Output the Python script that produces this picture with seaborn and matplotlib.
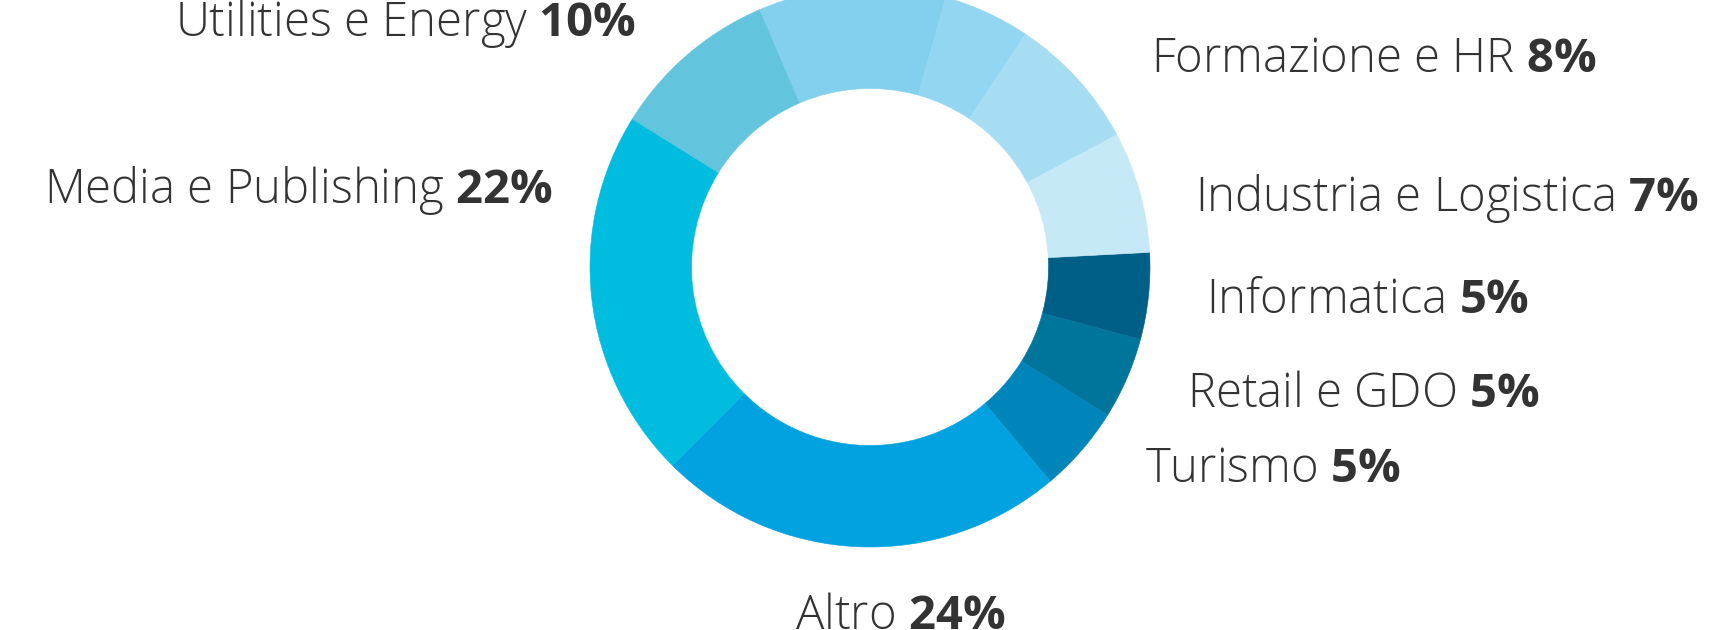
import matplotlib
matplotlib.use('Agg')
import matplotlib.pyplot as plt
import seaborn as sns

# --- Dati (quote, in senso orario dalle ore 3) --- #
settori = ['Informatica', 'Retail e GDO', 'Turismo', 'Altro', 'Media e Publishing',
           'Utilities e Energy', 'Settore A', 'Settore B', 'Formazione e HR',
           'Industria e Logistica']
quote = [5.0, 4.7, 5.0, 23.6, 21.4, 9.7, 10.8, 5.0, 7.8, 7.0]
etichette_pct = ['5%', '5%', '5%', '24%', '22%', '10%', '', '', '8%', '7%']

colori = ['#005f87', '#00759c', '#0085bb', '#02a1e0', '#00bde0',
          '#62c5dd', '#82d0ee', '#93d6f2', '#a6ddf3', '#c6e9f8']

# posizione delle etichette in pixel (x, baseline dall'alto, allineamento)
pos_etichette = {
    'Informatica': (1206, 313, 'left'),
    'Retail e GDO': (1187, 407, 'left'),
    'Turismo': (1145, 482, 'left'),
    'Altro': (900, 629, 'center'),
    'Media e Publishing': (553, 203, 'right'),
    'Utilities e Energy': (636, 36, 'right'),
    'Formazione e HR': (1151, 72, 'left'),
    'Industria e Logistica': (1195, 211, 'left'),
}

W, H = 1727, 630
sns.set_theme(style='white')
plt.rcParams['font.family'] = ['Open Sans', 'DejaVu Sans']
plt.rcParams['mathtext.fontset'] = 'custom'
plt.rcParams['mathtext.bf'] = 'Open Sans:bold'
plt.rcParams['mathtext.rm'] = 'Open Sans'

fig = plt.figure(figsize=(W / 100, H / 100), dpi=100)
ax = fig.add_axes([0, 0, 1, 1])

r_ext, r_int = 280, 178.5
palette = sns.color_palette(colori)
wedges, _ = ax.pie(quote, colors=palette, startangle=3, counterclock=False,
                   center=(870, H - 267), radius=r_ext, frame=True,
                   wedgeprops=dict(width=r_ext - r_int, linewidth=0.4))
for w, c in zip(wedges, palette):
    w.set_edgecolor(c)

for nome, pct in zip(settori, etichette_pct):
    if nome not in pos_etichette:
        continue
    x, yb, ha = pos_etichette[nome]
    ax.text(x, H - yb, nome + ' ' + r'$\mathbf{' + pct.replace('%', r'\%') + '}$',
            ha=ha, va='baseline', fontsize=34, fontweight='light', color='#333333')

ax.set_xlim(0, W)
ax.set_ylim(0, H)
ax.set_aspect('equal')
ax.axis('off')

fig.savefig('out.png', dpi=100)
